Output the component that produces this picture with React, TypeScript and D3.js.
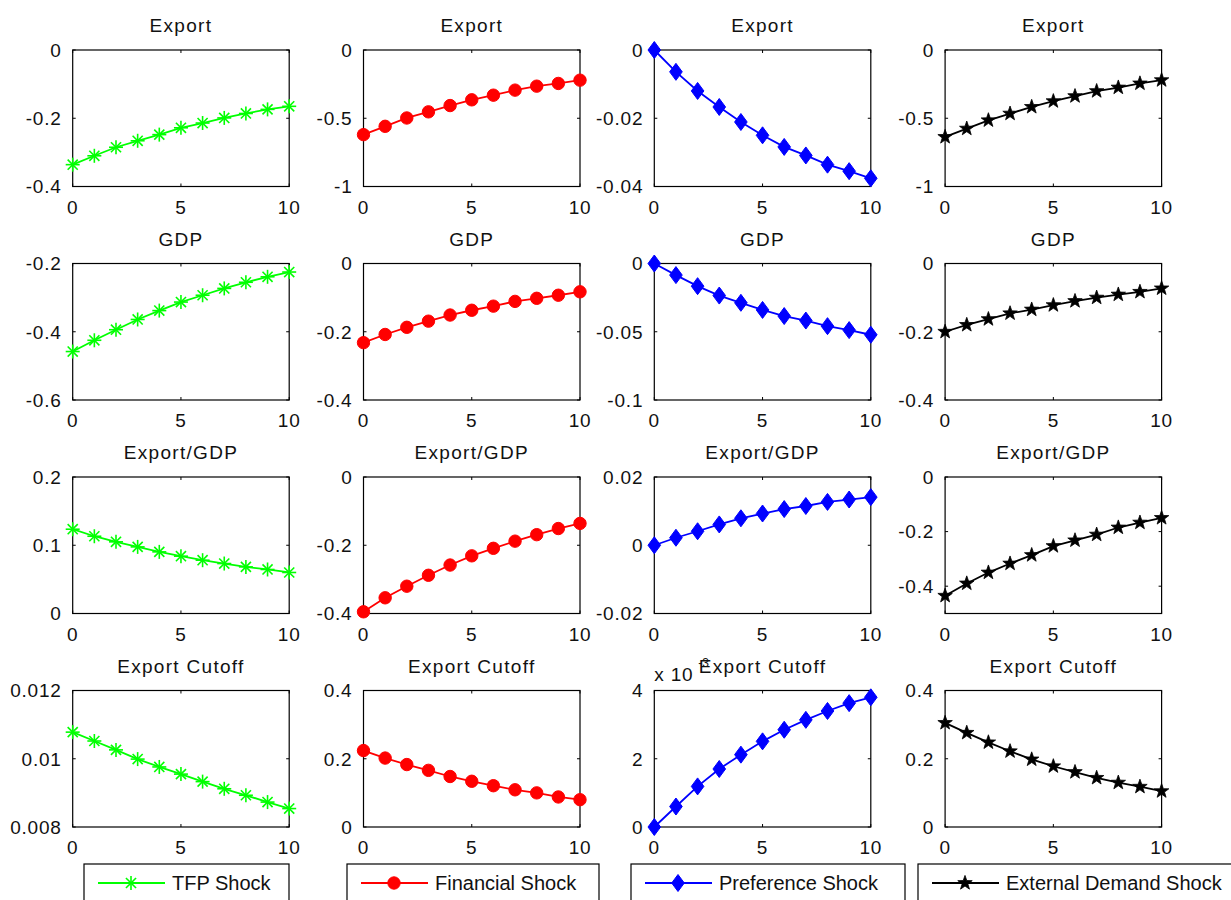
import React from 'react';
import * as d3 from 'd3';

// horizon (periods after the shock)
const periods = [0, 1, 2, 3, 4, 5, 6, 7, 8, 9, 10];
const rowTitles = ['Export', 'GDP', 'Export/GDP', 'Export Cutoff'];
const shockNames = ['TFP Shock', 'Financial Shock', 'Preference Shock', 'External Demand Shock'];

// TFP shock
const tfpExport = [-0.336, -0.31, -0.285, -0.266, -0.248, -0.228, -0.214, -0.199, -0.186, -0.174, -0.165];
const tfpGdp = [-0.458, -0.425, -0.394, -0.364, -0.338, -0.313, -0.293, -0.273, -0.255, -0.239, -0.225];
const tfpRatio = [0.1235, 0.1132, 0.105, 0.0976, 0.0903, 0.084, 0.0781, 0.0732, 0.0683, 0.0645, 0.0601];
const tfpCutoff = [0.01078, 0.01052, 0.01026, 0.00999, 0.00976, 0.00955, 0.00933, 0.00912, 0.00893, 0.00873, 0.00854];

// financial shock
const finExport = [-0.62, -0.559, -0.498, -0.453, -0.407, -0.365, -0.331, -0.294, -0.265, -0.245, -0.221];
const finGdp = [-0.232, -0.208, -0.187, -0.169, -0.151, -0.137, -0.125, -0.111, -0.102, -0.093, -0.083];
const finRatio = [-0.395, -0.354, -0.32, -0.288, -0.258, -0.231, -0.209, -0.188, -0.169, -0.151, -0.136];
const finCutoff = [0.224, 0.202, 0.183, 0.166, 0.148, 0.134, 0.121, 0.109, 0.1, 0.088, 0.08];

// preference shock
const prefExport = [0, -0.0064, -0.012, -0.0167, -0.0211, -0.025, -0.0284, -0.0309, -0.0336, -0.0355, -0.0376];
const prefGdp = [0, -0.0085, -0.0166, -0.0235, -0.0288, -0.034, -0.0385, -0.0418, -0.0459, -0.0488, -0.0522];
const prefRatio = [0, 0.0022, 0.0041, 0.0061, 0.0079, 0.0093, 0.0106, 0.0115, 0.0127, 0.0134, 0.0141];
const prefCutoff = [0, 0.0006, 0.00119, 0.0017, 0.00212, 0.00251, 0.00285, 0.00314, 0.0034, 0.00363, 0.0038];

// external demand shock
const extExport = [-0.637, -0.576, -0.515, -0.466, -0.417, -0.375, -0.338, -0.301, -0.275, -0.245, -0.221];
const extGdp = [-0.2, -0.18, -0.163, -0.146, -0.135, -0.122, -0.11, -0.1, -0.091, -0.083, -0.073];
const extRatio = [-0.435, -0.39, -0.35, -0.317, -0.286, -0.253, -0.232, -0.211, -0.185, -0.167, -0.15];
const extCutoff = [0.305, 0.276, 0.248, 0.222, 0.198, 0.178, 0.161, 0.144, 0.13, 0.118, 0.105];

// y limits, row by row
const exportLimits = [[-0.4, 0], [-1, 0], [-0.04, 0], [-1, 0]];
const gdpLimits = [[-0.6, -0.2], [-0.4, 0], [-0.1, 0], [-0.4, 0]];
const ratioLimits = [[0, 0.2], [-0.4, 0], [-0.02, 0.02], [-0.5, 0]];
const cutoffLimits = [[0.008, 0.012], [0, 0.4], [0, 0.004], [0, 0.4]];

// y ticks, row by row
const exportTicks = [[-0.4, -0.2, 0], [-1, -0.5, 0], [-0.04, -0.02, 0], [-1, -0.5, 0]];
const gdpTicks = [[-0.6, -0.4, -0.2], [-0.4, -0.2, 0], [-0.1, -0.05, 0], [-0.4, -0.2, 0]];
const ratioTicks = [[0, 0.1, 0.2], [-0.4, -0.2, 0], [-0.02, 0, 0.02], [-0.4, -0.2, 0]];
const cutoffTicks = [[0.008, 0.01, 0.012], [0, 0.2, 0.4], [0, 0.002, 0.004], [0, 0.2, 0.4]];
const xTicks = [0, 5, 10];

const series = [
  [tfpExport, finExport, prefExport, extExport],
  [tfpGdp, finGdp, prefGdp, extGdp],
  [tfpRatio, finRatio, prefRatio, extRatio],
  [tfpCutoff, finCutoff, prefCutoff, extCutoff],
];
const limits = [exportLimits, gdpLimits, ratioLimits, cutoffLimits];
const ticks = [exportTicks, gdpTicks, ratioTicks, cutoffTicks];

const colors = ['#00ff00', '#ff0000', '#0000ff', '#000000'];
const FONT = '"Liberation Sans", Arial, Helvetica, sans-serif';

const W = 1231;
const H = 900;
const left0 = 72.7;
const colStep = 290.8;
const plotW = 216.5;
const top0 = 50;
const rowStep = 213.5;
const plotH = 136.5;

const starPath = (r: number) => {
  const pts: string[] = [];
  for (let i = 0; i < 10; i++) {
    const rad = i % 2 === 0 ? r : r * 0.4;
    const a = -Math.PI / 2 + (i * Math.PI) / 5;
    pts.push(`${(rad * Math.cos(a)).toFixed(2)},${(rad * Math.sin(a)).toFixed(2)}`);
  }
  return 'M' + pts.join('L') + 'Z';
};

const Marker = ({ kind, x, y }: { kind: number; x: number; y: number }) => {
  const c = colors[kind];
  if (kind === 0) {
    const s = 7;
    const d = s * 0.72;
    return (
      <g transform={`translate(${x},${y})`} stroke={c} strokeWidth={1.6}>
        <line x1={-s} y1={0} x2={s} y2={0} />
        <line x1={0} y1={-s} x2={0} y2={s} />
        <line x1={-d} y1={-d} x2={d} y2={d} />
        <line x1={-d} y1={d} x2={d} y2={-d} />
      </g>
    );
  }
  if (kind === 1) return <circle cx={x} cy={y} r={6.2} fill={c} stroke={c} />;
  if (kind === 2)
    return <path transform={`translate(${x},${y})`} d="M0,-8.5L6.3,0L0,8.5L-6.3,0Z" fill={c} stroke={c} />;
  return <path transform={`translate(${x},${y})`} d={starPath(7.6)} fill={c} stroke={c} strokeWidth={0.8} />;
};

const fmt = (v: number) => String(+v.toFixed(6));

const Panel = ({ row, col }: { row: number; col: number }) => {
  const left = left0 + col * colStep;
  const top = top0 + row * rowStep;
  const x = d3.scaleLinear().domain([0, 10]).range([0, plotW]);
  const [lo, hi] = limits[row][col];
  const y = d3.scaleLinear().domain([lo, hi]).range([plotH, 0]);
  const vals = series[row][col];
  const line = d3.line<number>().x((_, i) => x(periods[i])).y((d) => y(d));
  const scaled = row === 3 && col === 2; // axis shown in units of 1e-3
  const tickLen = 3;
  return (
    <g transform={`translate(${left},${top})`} fontFamily={FONT}>
      <rect x={0} y={0} width={plotW} height={plotH} fill="white" stroke="#000" strokeWidth={1.2} />
      {xTicks.map((t) => (
        <g key={'x' + t}>
          <line x1={x(t)} x2={x(t)} y1={plotH} y2={plotH - tickLen} stroke="#000" />
          <line x1={x(t)} x2={x(t)} y1={0} y2={tickLen} stroke="#000" />
          <text x={x(t)} y={plotH + 27} fontSize={19} letterSpacing={0.8} textAnchor="middle" fill="#111">
            {t}
          </text>
        </g>
      ))}
      {ticks[row][col].map((t) => (
        <g key={'y' + t}>
          <line x1={0} x2={tickLen} y1={y(t)} y2={y(t)} stroke="#000" />
          <line x1={plotW} x2={plotW - tickLen} y1={y(t)} y2={y(t)} stroke="#000" />
          <text
            x={-11}
            y={y(t)}
            dy="0.36em"
            fontSize={19}
            letterSpacing={0.8}
            textAnchor="end"
            fill="#111"
          >
            {scaled ? fmt(t * 1000) : fmt(t)}
          </text>
        </g>
      ))}
      <path d={line(vals) || ''} fill="none" stroke={colors[col]} strokeWidth={1.8} />
      {vals.map((v, i) => (
        <Marker key={i} kind={col} x={x(periods[i])} y={y(v)} />
      ))}
      {scaled && (
        <g fill="#111">
          <text x={0} y={-10} fontSize={19} letterSpacing={0.8}>
            x 10
          </text>
          <text x={44} y={-24} fontSize={12}>
            -3
          </text>
        </g>
      )}
      <text x={plotW / 2} y={-18} fontSize={19} letterSpacing={1.3} textAnchor="middle" fill="#111">
        {rowTitles[row]}
      </text>
    </g>
  );
};

const legendLefts = [84, 347, 631, 918];
const legendRights = [289, 599, 905, 1240];

const Legend = ({ i }: { i: number }) => {
  const l = legendLefts[i];
  const r = legendRights[i];
  const cy = 883;
  return (
    <g fontFamily={FONT}>
      <rect x={l} y={864} width={r - l} height={50} fill="white" stroke="#000" strokeWidth={1.2} />
      <line x1={l + 14} x2={l + 81} y1={cy} y2={cy} stroke={colors[i]} strokeWidth={1.8} />
      <Marker kind={i} x={l + 47} y={cy} />
      <text x={l + 88} y={cy} dy="0.36em" fontSize={20} fill="#111">
        {shockNames[i]}
      </text>
    </g>
  );
};

export default function App() {
  return (
    <div style={{ position: 'absolute', left: 0, top: 0, width: W, height: H, overflow: 'hidden', background: '#fff' }}>
      <svg width={W} height={H} style={{ display: 'block' }}>
        <rect width={W} height={H} fill="#fff" />
        {[0, 1, 2, 3].map((row) => [0, 1, 2, 3].map((col) => <Panel key={`${row}-${col}`} row={row} col={col} />))}
        {[0, 1, 2, 3].map((i) => (
          <Legend key={i} i={i} />
        ))}
      </svg>
    </div>
  );
}
